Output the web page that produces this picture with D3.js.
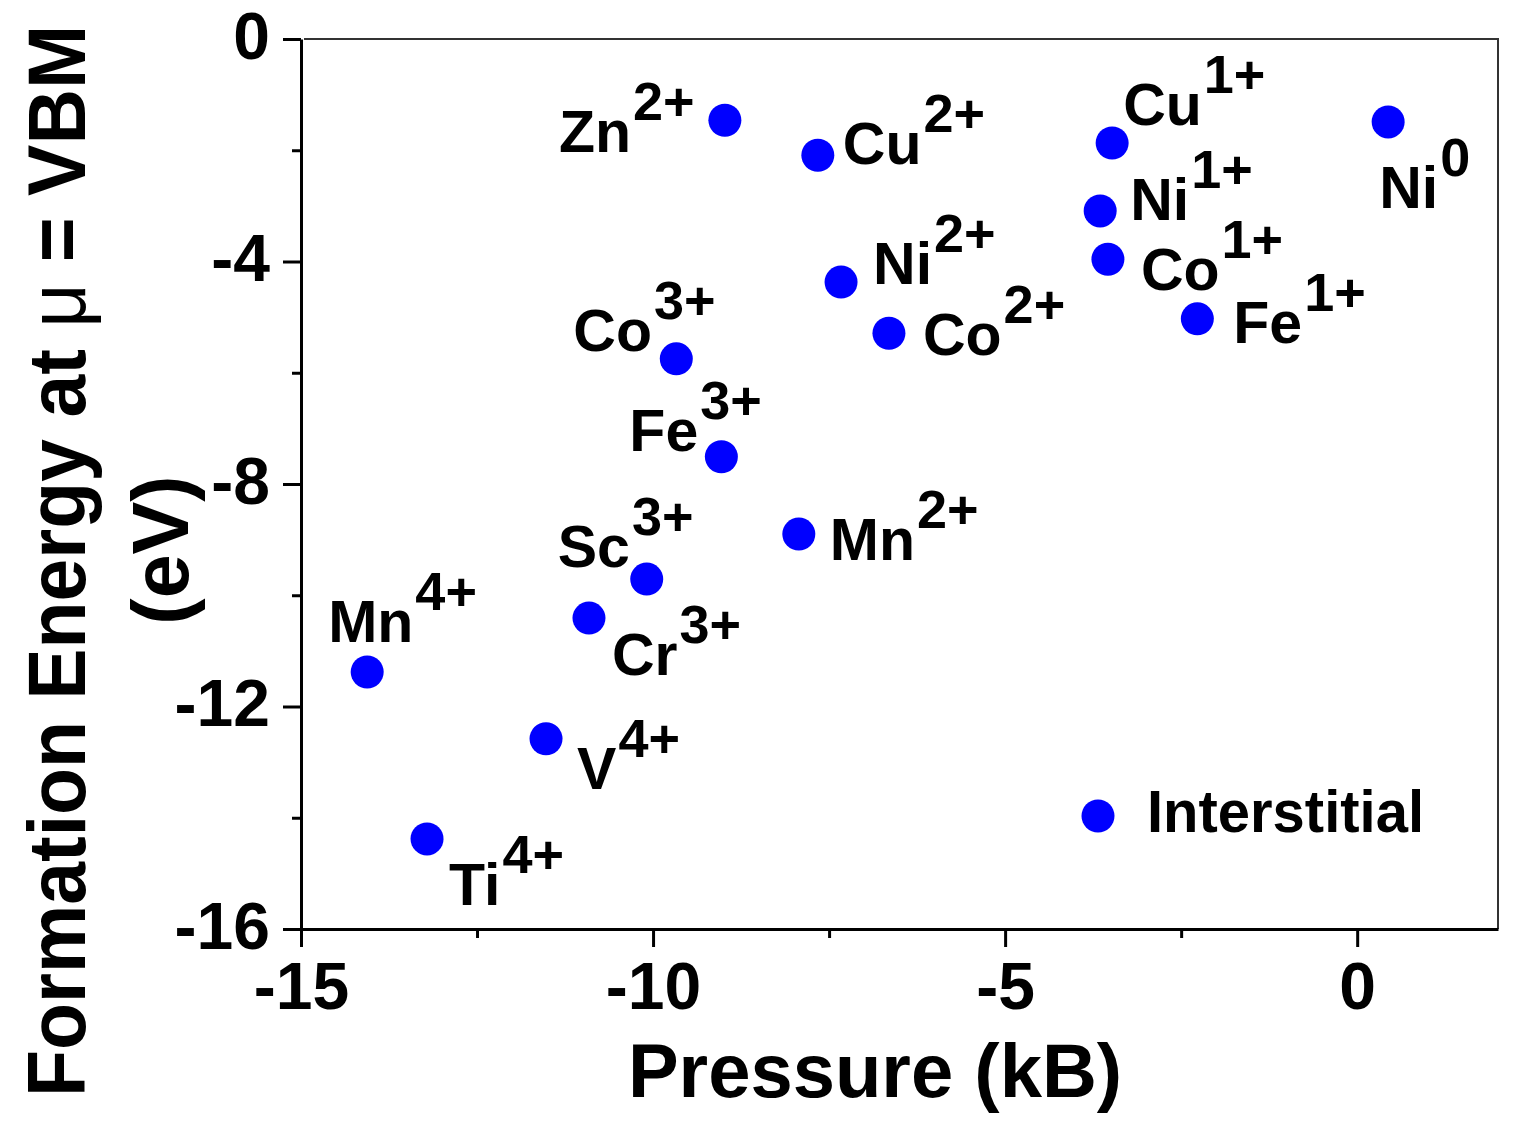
<!DOCTYPE html>
<html>
<head>
<meta charset="utf-8">
<script src="https://cdn.jsdelivr.net/npm/d3@7"></script>
<style>
  body { margin: 0; background: #fff; }
  svg { display: block; font-family: "Liberation Sans", Arial, Helvetica, sans-serif; font-weight: bold; }
</style>
</head>
<body>
<svg id="chart" width="1519" height="1136"></svg>
<script>
// данные
const elements = ["Zn", "Cu", "Ni", "Co", "Co", "Cu", "Ni", "Co", "Fe", "Ni", "Fe", "Sc", "Mn", "Cr", "Mn", "V", "Ti"];
const charges  = ["2+", "2+", "2+", "2+", "3+", "1+", "1+", "1+", "1+", "0", "3+", "3+", "2+", "3+", "4+", "4+", "4+"];
const pressure = [-8.98, -7.66, -7.33, -6.65, -9.67, -3.48, -3.65, -3.54, -2.27, 0.44, -9.03, -10.09, -7.93, -10.91, -14.06, -11.52, -13.21];
const energy   = [-1.46, -2.09, -4.37, -5.29, -5.75, -1.87, -3.09, -3.96, -5.03, -1.49, -7.51, -9.71, -8.90, -10.41, -11.38, -12.58, -14.38];

const xTicks = [-15, -10, -5, 0];
const xMinor = [-12.5, -7.5, -2.5];
const yTicks = [0, -4, -8, -12, -16];
const yMinor = [-2, -6, -10, -14];

// смещения подписей относительно точки (px)
const labelOffsets = [
  [-166, 32], [25, 9], [32, 2], [34, 22], [-103, -8], [11, -18], [30, 9], [33, 31], [36, 24],
  [-9, 86], [-92, -6], [-89, -12], [31, 26], [23, 57], [-39, -30], [31, 50], [22, 66]
];

const points = elements.map((el, i) => ({ el, q: charges[i], x: pressure[i], y: energy[i], off: labelOffsets[i] }));

const svg = d3.select("#chart");
const margin = { left: 301, right: 21, top: 39, bottom: 207 };
const W = 1519, H = 1136;

const x = d3.scaleLinear().domain([-15, 2]).range([margin.left, W - margin.right]);
const y = d3.scaleLinear().domain([-16, 0]).range([H - margin.bottom, margin.top]);

// рамка сверху и справа
svg.append("path")
  .attr("d", `M${x(-15) + 3},${y(0)} H${x(2)} V${y(-16)}`)
  .attr("fill", "none").attr("stroke", "#333").attr("stroke-width", 2);

// оси
const fmt = d => String(d);
const gx = svg.append("g").attr("transform", `translate(0,${y(-16)})`)
  .call(d3.axisBottom(x).tickValues(xTicks).tickSize(18).tickSizeOuter(0).tickPadding(14).tickFormat(fmt));
const gxm = svg.append("g").attr("transform", `translate(0,${y(-16)})`)
  .call(d3.axisBottom(x).tickValues(xMinor).tickSize(9).tickFormat(""));
const gy = svg.append("g").attr("transform", `translate(${x(-15)},0)`)
  .call(d3.axisLeft(y).tickValues(yTicks).tickSize(18).tickSizeOuter(0).tickPadding(13).tickFormat(fmt));
const gym = svg.append("g").attr("transform", `translate(${x(-15)},0)`)
  .call(d3.axisLeft(y).tickValues(yMinor).tickSize(9).tickFormat(""));

gxm.select(".domain").remove();
gym.select(".domain").remove();
[gx, gxm, gy, gym].forEach(g => {
  g.selectAll("path, line").attr("stroke", "#000").attr("stroke-width", 3);
  g.selectAll("text").attr("fill", "#000").style("font-size", "66px").style("font-weight", "bold")
    .style("font-family", "'Liberation Sans', Arial, sans-serif");
});
gy.selectAll("text").attr("dy", "0.29em");
gx.selectAll("text").attr("dy", "0.72em");

// точки
svg.append("g").selectAll("circle")
  .data(points).join("circle")
  .attr("cx", d => x(d.x)).attr("cy", d => y(d.y))
  .attr("r", 16.5).attr("fill", "#0000ff");

// подписи с верхними индексами
const labels = svg.append("g").selectAll("text")
  .data(points).join("text")
  .attr("x", d => x(d.x) + d.off[0])
  .attr("y", d => y(d.y) + d.off[1])
  .attr("fill", "#000");
labels.append("tspan").style("font-size", "59px").text(d => d.el);
labels.append("tspan").style("font-size", "54px").attr("dx", 2).attr("dy", -32).text(d => d.q);

// легенда
svg.append("circle").attr("cx", 1098).attr("cy", 816).attr("r", 16.5).attr("fill", "#0000ff");
svg.append("text").attr("x", 1147).attr("y", 832).style("font-size", "60px")
  .attr("textLength", 277).attr("lengthAdjust", "spacingAndGlyphs").text("Interstitial");

// подписи осей
svg.append("text").attr("x", 875).attr("y", 1097).attr("text-anchor", "middle")
  .style("font-size", "76px").text("Pressure (kB)");

const yt = svg.append("text")
  .attr("transform", "translate(85,561) rotate(-90)")
  .attr("text-anchor", "middle")
  .attr("textLength", 1072).attr("lengthAdjust", "spacingAndGlyphs")
  .style("font-size", "82px");
yt.append("tspan").text("Formation Energy at ");
yt.append("tspan").style("font-weight", "normal").text("\u03bc");
yt.append("tspan").text(" = VBM");

svg.append("text")
  .attr("transform", "translate(188,550) rotate(-90)")
  .attr("text-anchor", "middle")
  .style("font-size", "79px").text("(eV)");
</script>
</body>
</html>
